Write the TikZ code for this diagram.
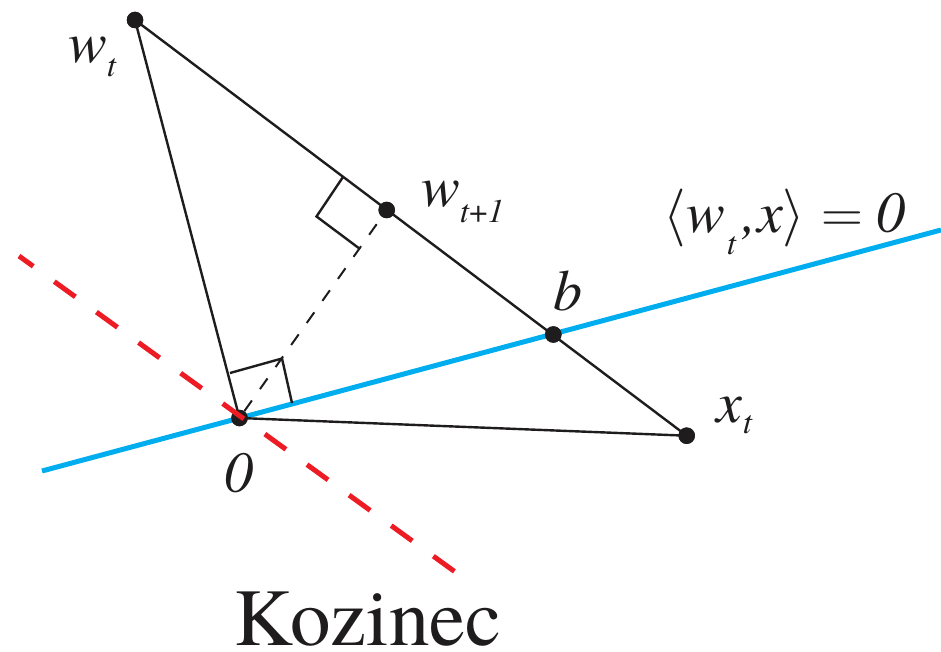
\RequirePackage{fix-cm}
\documentclass[tikz,border=0pt]{standalone}
\usepackage{fontspec}
\setmainfont{texgyretermes}[Extension=.otf,UprightFont=*-regular,ItalicFont=*-italic,BoldFont=*-bold,BoldItalicFont=*-bolditalic]
\usetikzlibrary{calc}
\definecolor{kblue}{RGB}{0,174,239}
\definecolor{kred}{RGB}{237,28,36}
\definecolor{kblack}{RGB}{30,28,28}
\newcommand{\lblfont}{\fontsize{58}{60}\selectfont\itshape}
\newcommand{\sbs}[2][-14pt]{\raisebox{#1}{\fontsize{33}{33}\selectfont\itshape #2}}
\begin{document}
\begin{tikzpicture}[x=1pt,y=-1pt,
  dot/.style={circle,fill=kblack,inner sep=0pt,minimum size=16.5pt},
  edge/.style={line width=2.4pt,draw=kblack},
  lab/.style={anchor=base west,inner sep=0pt,font=\lblfont,text=kblack},
  hyper/.style={line width=5pt,draw=kblue},
  koz/.style={line width=5pt,draw=kred,dash pattern=on 26pt off 26pt,dash phase=8.4pt},
  proj/.style={line width=2pt,draw=kblack,dash pattern=on 13pt off 14pt}]
\useasboundingbox (0,0) rectangle (941,652);
% hyperplane <w_t,x> = 0
\coordinate (h1) at (42,471);
\coordinate (h2) at (941,230);
\draw[hyper] (h1) -- (h2);
% points
\node[dot] (wt) at (135,20) {};
\node[dot] (w1) at (386.7,210) {};
\node[dot] (b) at (553.3,334.5) {};
\node[dot] (xt) at (686.7,435.7) {};
\node[dot] (o) at (239.5,418) {};
% triangle
\draw[edge] (wt.center) -- (xt.center);
\draw[edge] (wt.center) -- (o.center);
\draw[edge] (o.center) -- (xt.center);
% projection
\draw[proj] (o) -- (w1);
% right angle marks
\draw[edge] (343,177) -- (316.5,216.5) -- (360,249);
\draw[edge] (230,373) -- (282,358.5) -- (292,403);
% redraw dots on top
\fill[kblack] (wt) circle (8.25pt);
\fill[kblack] (w1) circle (8.25pt);
\fill[kblack] (b) circle (8.25pt);
\fill[kblack] (xt) circle (8.25pt);
\fill[kblack] (o) circle (8.25pt);
% Kozinec line
\coordinate (k1) at (19,256);
\coordinate (k2) at (458,574);
\draw[koz] (k1) -- (k2);
% labels
\node[lab] (lwt) at (68,63) {w\sbs{t}};
\node[lab] (lw1) at (421,207) {w\sbs[-16pt]{t{\upshape +}1}};
\node[lab] (lxt) at (716,422) {x\kern1pt\sbs[-11pt]{t}};
\node[lab] (lb) at (553,310) {b};
\node[lab] (lo) at (224,492) {0};
\node[lab] (lh) at (663,233) {$\langle$\kern1pt w\kern1.5pt\sbs[-21pt]{t}\kern6.5pt,\kern0pt x$\rangle$\kern16pt$=$\kern13pt 0};
\node[anchor=base west,inner sep=0pt,font=\fontsize{81}{85}\selectfont,text=kblack] (lk) at (234,645) {Kozinec};
\end{tikzpicture}
\end{document}
